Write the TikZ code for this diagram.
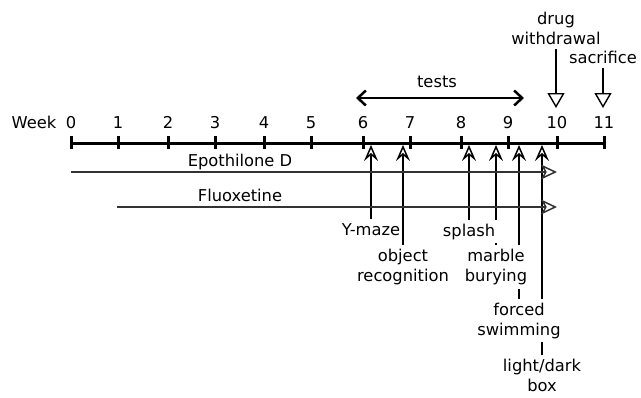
\documentclass[tikz,border=0pt]{standalone}
\usepackage{fontspec}
\setmainfont{DejaVu Sans}
\usetikzlibrary{arrows.meta,backgrounds}
\begin{document}
\begin{tikzpicture}[x=1pt,y=-1pt,
  txt/.style={font=\fontsize{16.3}{20}\selectfont, inner sep=0pt, anchor=base},
  testlbl/.style={font=\fontsize{16.3}{20}\selectfont, align=center, fill=white, inner xsep=1pt, inner ysep=4pt, anchor=north},
  toplbl/.style={font=\fontsize{16.3}{20}\selectfont, align=center, inner xsep=1pt, inner ysep=4pt, anchor=north},
  axisline/.style={line width=3pt},
  tickmark/.style={line width=3pt},
  testarrow/.style={line width=2pt, -{Stealth[open, length=16pt, width=14pt, inset=6pt, line width=1.5pt]}},
  drugline/.style={line width=1.5pt, black!80, -{Stealth[open, length=16pt, width=15pt, inset=4pt, line width=1.5pt]}},
  eventarrow/.style={line width=1.6pt, -{Triangle[open, length=15pt, width=17pt, line width=1.4pt]}},
  testsarrow/.style={line width=2.5pt, {Straight Barb[length=8pt, width=15pt]}-{Straight Barb[length=8pt, width=15pt]}}
]
\useasboundingbox (0,0) rectangle (641,397);

% ticks and week numbers
\foreach \i/\x in {0/71,1/118,2/168,3/215,4/264,5/311,6/363,7/410,8/461,9/508,10/557,11/604}{
  \coordinate (t\i) at (\x,143);
  \draw[tickmark] (\x,136) -- (\x,149);
  \node[txt] (n\i) at (\x,128) {\i};
}
\node[txt] (week) at (34,128) {Week};
\draw[axisline] (t0) -- (t11);

% tests
\coordinate (ts) at (356,98);
\coordinate (te) at (524,98);
\draw[testsarrow] (ts) -- (te);
\node[txt] (tests) at (437,87) {tests};

% drug withdrawal and sacrifice
\node[toplbl] (dw) at (556,7.5) {drug\\withdrawal};
\coordinate (dwtip) at (556,108);
\draw[eventarrow] (dw.south) -- (dwtip);
\node[toplbl] (sac) at (603,46.5) {sacrifice};
\coordinate (sactip) at (603,108);
\draw[eventarrow] (sac.south) -- (sactip);

% drug lines
\coordinate (e0) at (71,172);
\coordinate (e1) at (557,172);
\coordinate (f0) at (117,207);
\coordinate (f1) at (557,207);
\node[txt] (epo) at (240,166.7) {Epothilone D};
\node[txt] (flu) at (240,201.7) {Fluoxetine};
\draw[drugline] (e0) -- (e1);
\draw[drugline] (f0) -- (f1);

% test labels
\node[testlbl, inner xsep=0pt] (ym) at (371,219.2) {Y-maze};
\node[testlbl] (obj) at (403,245.2) {object\\recognition};
\node[testlbl, inner xsep=3.5pt] (spl) at (469,219.5) {splash};
\node[testlbl] (mar) at (496,245.2) {marble\\burying};
\node[testlbl] (fs) at (519,298.5) {forced\\swimming};
\node[testlbl] (ld) at (542,355.2) {light/dark\\box};

\coordinate (aym) at (371,145);
\coordinate (aobj) at (403,145);
\coordinate (aspl) at (469,145);
\coordinate (amar) at (496,145);
\coordinate (afs) at (519,145);
\coordinate (ald) at (542,145);

\begin{pgfonlayer}{background}
\draw[testarrow] (ym.north) -- (aym);
\draw[testarrow] (obj.north) -- (aobj);
\draw[testarrow] (spl.north) -- (aspl);
\draw[testarrow] (mar.north) -- (amar);
\draw[testarrow] (fs.north) -- (afs);
\draw[testarrow] (ld.north) -- (ald);
\end{pgfonlayer}
\end{tikzpicture}
\end{document}
